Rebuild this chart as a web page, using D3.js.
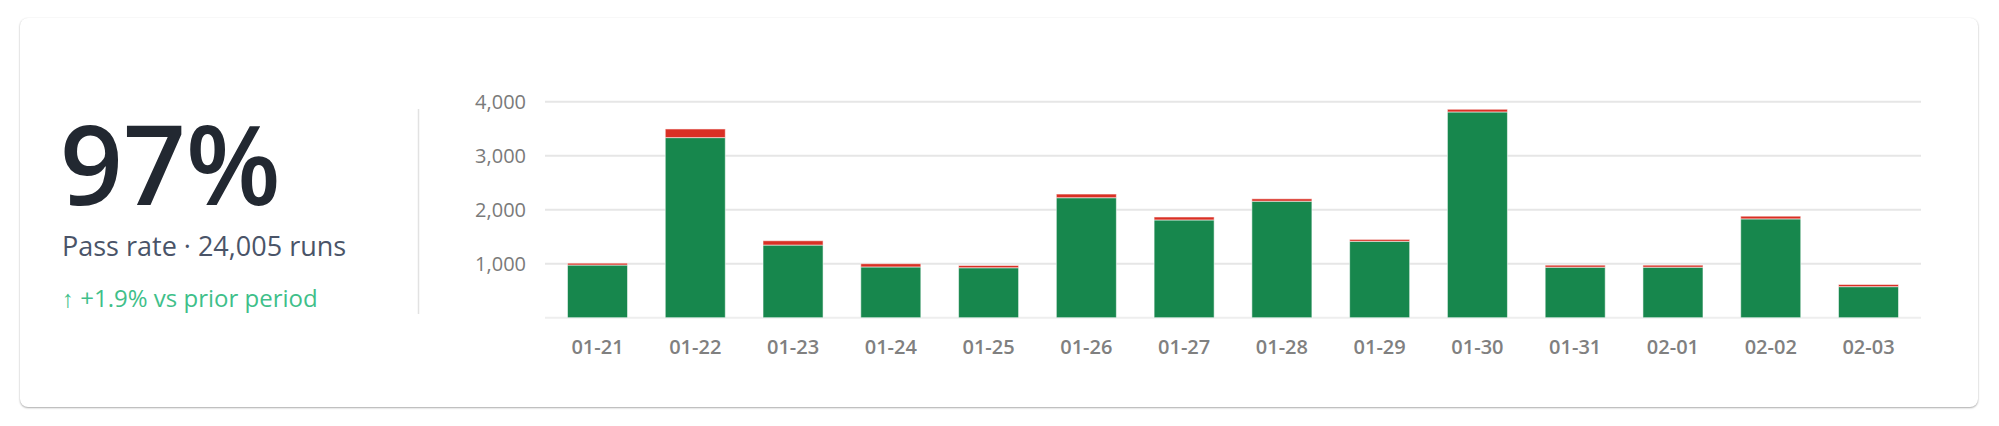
<!DOCTYPE html>
<html>
<head>
<meta charset="utf-8">
<script src="https://cdn.jsdelivr.net/npm/d3@7"></script>
<style>
  html, body { margin: 0; padding: 0; background: #ffffff; }
  body { width: 1999px; height: 426px; position: relative; overflow: hidden; font-family: "Open Sans", sans-serif; }
  #card { position: absolute; left: 20px; top: 18px; width: 1958px; height: 389px; background: #fff;
          border-radius: 8px; box-shadow: 0 1px 2px rgba(0,0,0,0.32), 0 0 2px rgba(0,0,0,0.06); }
  svg { position: absolute; left: 0; top: 0; }
</style>
</head>
<body>
<div id="card"></div>
<svg id="chart" width="1999" height="426"></svg>
<script>
const categories = ["01-21","01-22","01-23","01-24","01-25","01-26","01-27","01-28","01-29","01-30","01-31","02-01","02-02","02-03"];
const passed = [975, 3335, 1345, 940, 925, 2222, 1810, 2157, 1415, 3810, 935, 935, 1830, 575];
const failed = [35, 160, 80, 60, 42, 68, 55, 45, 35, 50, 38, 38, 50, 40];
const yTicks = [1000, 2000, 3000, 4000];
const gridTicks = [0, 1000, 2000, 3000, 4000];
const headline = "97%";
const subtitle = "Pass rate · 24,005 runs";
const delta = "↑ +1.9% vs prior period";

const svg = d3.select("#chart");

// KPI block
svg.append("text").attr("x", 60).attr("y", 205)
  .attr("font-family", "Open Sans").attr("font-weight", 600).attr("font-size", 110)
  .attr("fill", "#222831").text(headline);
svg.append("text").attr("x", 62).attr("y", 256)
  .attr("font-family", "Open Sans").attr("font-size", 27)
  .attr("fill", "#4a5468").text(subtitle);
svg.append("text").attr("x", 62).attr("y", 307)
  .attr("font-family", "Open Sans").attr("font-size", 24)
  .attr("fill", "#3fbf8a").text(delta);

// divider
svg.append("line").attr("x1", 418.5).attr("x2", 418.5).attr("y1", 109).attr("y2", 314)
  .attr("stroke", "#e2e2e2").attr("stroke-width", 1.5);

// chart
const x = d3.scaleBand().domain(categories).range([545, 1921]).paddingInner(0.386).paddingOuter(0.23);
const y = d3.scaleLinear().domain([0, 4000]).range([317.7, 101.7]);

const g = svg.append("g");
g.selectAll("line.grid").data(gridTicks).join("line").attr("class", "grid")
  .attr("x1", 545).attr("x2", 1921)
  .attr("y1", d => y(d)).attr("y2", d => y(d))
  .attr("stroke", d => d === 0 ? "#eeeeee" : "#e6e6e6").attr("stroke-width", 2);

const yAxis = d3.axisLeft(y).tickValues(yTicks).tickFormat(d3.format(",")).tickSize(0).tickPadding(0);
const ya = svg.append("g").attr("transform", "translate(526,0)").call(yAxis);
ya.select(".domain").remove();
ya.selectAll("text").attr("font-family", "Open Sans").attr("font-size", 20).attr("fill", "#7a7a7a");

const xAxis = d3.axisBottom(x).tickSize(0).tickPadding(0);
const xa = svg.append("g").attr("transform", "translate(0,339)").call(xAxis);
xa.select(".domain").remove();
xa.selectAll("text").attr("font-family", "Open Sans").attr("font-size", 20).attr("font-weight", 600)
  .attr("fill", "#808080").attr("dy", "0.75em");

const rows = categories.map((c, i) => ({ c, p: passed[i], f: failed[i] }));
const bars = svg.append("g");
bars.selectAll("rect.pass").data(rows).join("rect").attr("class", "pass")
  .attr("x", d => x(d.c)).attr("width", x.bandwidth())
  .attr("y", d => y(d.p)).attr("height", d => y(0) - y(d.p))
  .attr("fill", "#17874d").attr("stroke", "#ffffff").attr("stroke-opacity", 0.55).attr("stroke-width", 1);
bars.selectAll("rect.fail").data(rows).join("rect").attr("class", "fail")
  .attr("x", d => x(d.c)).attr("width", x.bandwidth())
  .attr("y", d => y(d.p + d.f)).attr("height", d => y(d.p) - y(d.p + d.f))
  .attr("fill", "#d93025").attr("stroke", "#ffffff").attr("stroke-opacity", 0.55).attr("stroke-width", 1);
</script>
</body>
</html>
